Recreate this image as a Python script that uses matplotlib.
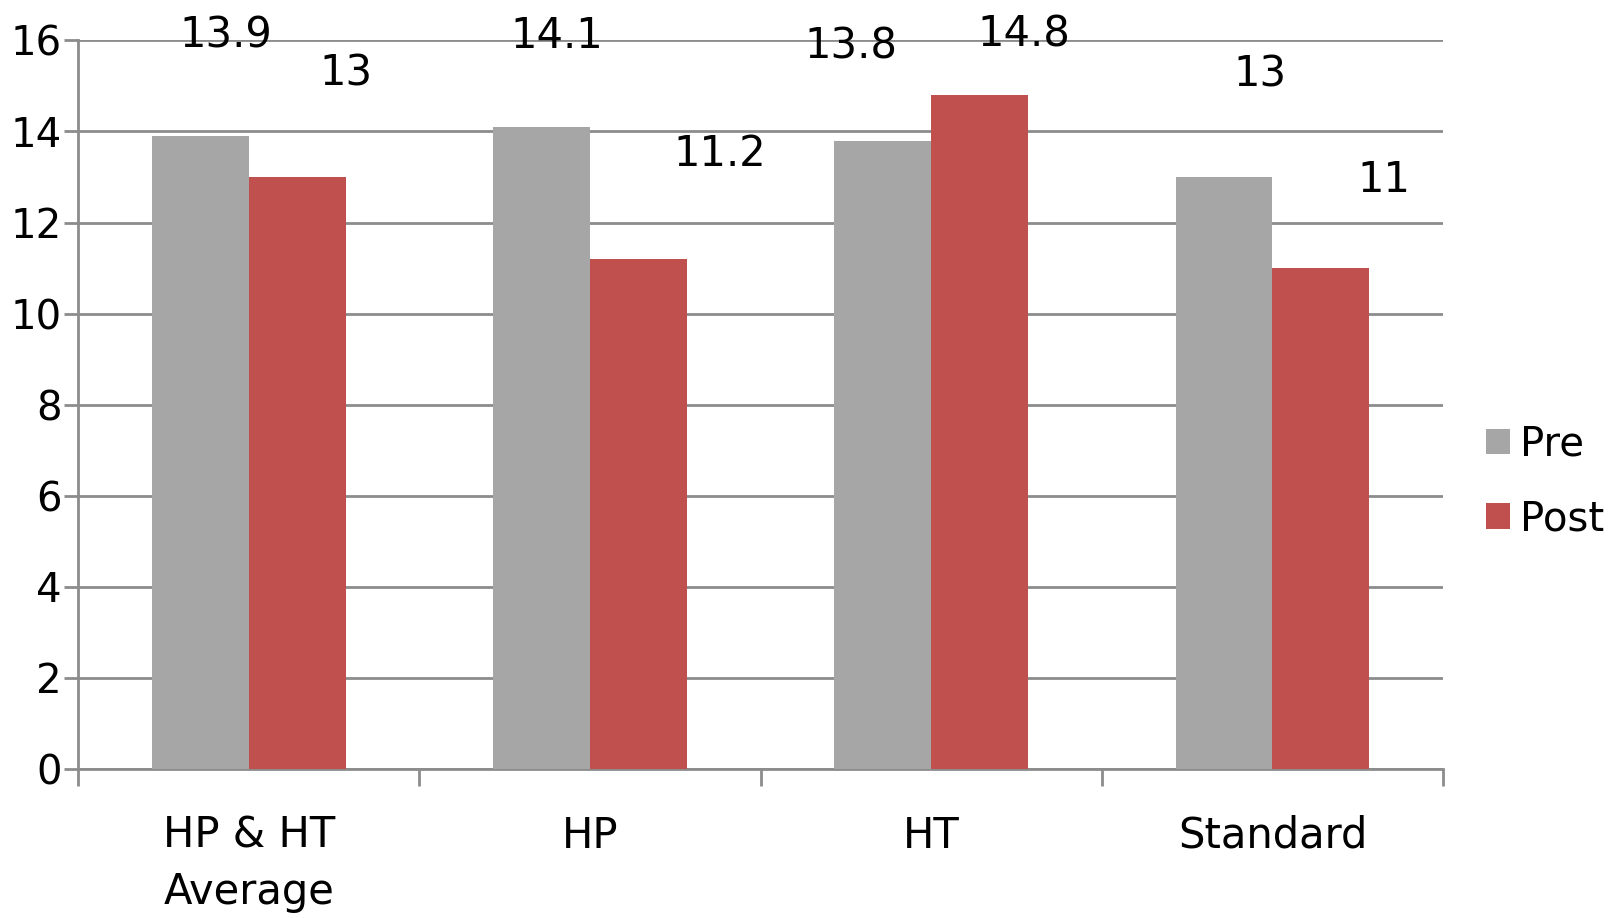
import numpy as np
import matplotlib.pyplot as plt

categories = ['HP & HT\nAverage', 'HP', 'HT', 'Standard']
pre = [13.9, 14.1, 13.8, 13.0]
post = [13.0, 11.2, 14.8, 11.0]

# where the value labels sit (they were dragged around by hand in the original)
pre_label_x = [-0.066, 0.902, 1.764, 2.963]
pre_label_y = [16.1, 16.1, 15.87, 15.25]
post_label_x = [0.286, 1.38, 2.271, 3.327]
post_label_y = [15.28, 13.5, 16.13, 12.93]

gray = '#A6A6A6'
red = '#C0504D'
line_col = '#8C8C8C'

plt.rcParams['font.family'] = 'DejaVu Sans'

fig = plt.figure(figsize=(16.16, 9.18), dpi=100)
ax = fig.add_axes([0.0483, 0.1623, 0.8447, 0.7937])

x = np.arange(len(categories))
w = 0.284
ax.bar(x - w / 2, pre, w, color=gray, label='Pre', zorder=3)
ax.bar(x + w / 2, post, w, color=red, label='Post', zorder=3)

for lx, ly, v in zip(pre_label_x, pre_label_y, pre):
    ax.text(lx, ly, f'{v:g}', ha='center', va='center', fontsize=30, zorder=4)
for lx, ly, v in zip(post_label_x, post_label_y, post):
    ax.text(lx, ly, f'{v:g}', ha='center', va='center', fontsize=30, zorder=4)

ax.set_xlim(-0.5, len(categories) - 0.5)
ax.set_ylim(0, 16)
ax.set_yticks(np.arange(0, 17, 2))
ax.yaxis.grid(True, color=line_col, linewidth=2, zorder=0)
ax.tick_params(axis='y', labelsize=29, length=10, width=2, color=line_col, pad=2)

ax.set_xticks(x)
ax.set_xticklabels(categories, fontsize=30, linespacing=1.42)
ax.set_xticks(np.arange(-0.5, len(categories)), minor=True)
ax.tick_params(axis='x', which='major', length=0, pad=33)
ax.tick_params(axis='x', which='minor', length=12, width=2, color=line_col)

for s in ['top', 'right']:
    ax.spines[s].set_visible(False)
for s in ['left', 'bottom']:
    ax.spines[s].set_color(line_col)
    ax.spines[s].set_linewidth(2)

fig.legend(loc='center left', bbox_to_anchor=(0.897, 0.475), frameon=False,
           fontsize=29, handlelength=0.6, handleheight=0.6, handletextpad=0.25,
           labelspacing=0.85)

fig.savefig('out.png', dpi=100)
